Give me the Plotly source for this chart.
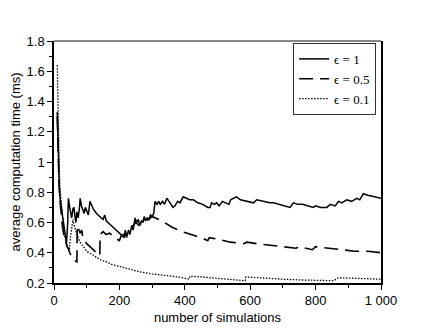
import plotly.graph_objects as go

# epsilon = 1 (solid)
x_e1 = [10, 12, 14, 16, 18, 21, 24, 27, 30, 34, 38, 42, 44, 48, 52, 54, 58, 61, 64, 67,
        70, 74, 78, 80, 84, 88, 92, 96, 100, 105, 110, 115, 120, 130, 140, 150, 155, 160,
        170, 180, 190, 200, 210, 215, 218, 222, 228, 232, 238, 242, 248, 252, 258, 262,
        268, 272, 276, 280, 285, 290, 295, 300, 305, 309, 315, 320, 325, 332, 338, 345,
        355, 364, 370, 378, 385, 395, 405, 415, 426, 440, 455, 470, 477, 482, 490, 497,
        505, 515, 525, 535, 540, 548, 558, 570, 590, 610, 620, 640, 660, 671, 690, 710,
        722, 732, 745, 760, 775, 793, 800, 815, 834, 845, 860, 870, 880, 895, 910, 926,
        935, 946, 960, 980, 1000]
y_e1 = [1.33, 1.10, 0.95, 0.85, 0.77, 0.72, 0.68, 0.62, 0.56, 0.49, 0.46, 0.60, 0.76, 0.70,
        0.65, 0.63, 0.69, 0.70, 0.64, 0.60, 0.67, 0.63, 0.70, 0.76, 0.71, 0.68, 0.66, 0.70,
        0.67, 0.65, 0.74, 0.71, 0.69, 0.66, 0.64, 0.62, 0.65, 0.61, 0.59, 0.57, 0.55, 0.53,
        0.51, 0.50, 0.55, 0.50, 0.55, 0.52, 0.58, 0.55, 0.63, 0.60, 0.62, 0.58, 0.61, 0.60,
        0.64, 0.61, 0.63, 0.62, 0.65, 0.64, 0.66, 0.74, 0.72, 0.74, 0.72, 0.74, 0.72, 0.76,
        0.73, 0.70, 0.71, 0.74, 0.73, 0.77, 0.76, 0.75, 0.75, 0.73, 0.72, 0.70, 0.70, 0.73,
        0.72, 0.73, 0.71, 0.74, 0.73, 0.72, 0.75, 0.76, 0.77, 0.75, 0.74, 0.73, 0.75, 0.74,
        0.73, 0.73, 0.72, 0.71, 0.70, 0.73, 0.72, 0.72, 0.71, 0.70, 0.71, 0.70, 0.70, 0.72,
        0.71, 0.74, 0.73, 0.75, 0.74, 0.76, 0.75, 0.79, 0.78, 0.77, 0.76]

# epsilon = 0.5 (dashed)
x_e05 = [10, 12, 15, 18, 22, 26, 30, 35, 40, 45, 48, 55, 62, 70, 71, 80, 85, 88, 100, 110,
         125, 140, 141, 150, 160, 170, 185, 200, 205, 220, 235, 250, 260, 275, 290, 300,
         310, 330, 360, 390, 420, 450, 470, 475, 500, 540, 580, 590, 620, 660, 700, 740,
         750, 790, 800, 840, 880, 920, 960, 1000]
y_e05 = [1.30, 1.10, 0.88, 0.75, 0.64, 0.57, 0.52, 0.47, 0.44, 0.42, 0.40, 0.37, 0.35, 0.34,
         0.58, 0.53, 0.55, 0.50, 0.46, 0.44, 0.41, 0.38, 0.52, 0.54, 0.52, 0.53, 0.50, 0.48,
         0.51, 0.53, 0.56, 0.60, 0.58, 0.61, 0.62, 0.64, 0.63, 0.61, 0.57, 0.54, 0.52, 0.50,
         0.48, 0.50, 0.49, 0.47, 0.46, 0.47, 0.46, 0.45, 0.44, 0.43, 0.44, 0.42, 0.44, 0.43,
         0.42, 0.41, 0.41, 0.40]

# epsilon = 0.1 (dotted)
x_e01 = [10, 12, 14, 16, 18, 21, 24, 28, 32, 36, 40, 44, 47, 50, 55, 58, 62, 70, 80, 90,
         100, 115, 130, 145, 160, 180, 200, 230, 260, 300, 340, 380, 413, 416, 450, 500,
         550, 585, 587, 650, 700, 760, 800, 855, 870, 930, 1000]
y_e01 = [1.64, 1.35, 1.12, 0.95, 0.84, 0.74, 0.66, 0.58, 0.52, 0.48, 0.45, 0.44, 0.42, 0.50,
         0.60, 0.62, 0.58, 0.52, 0.47, 0.44, 0.41, 0.39, 0.37, 0.35, 0.34, 0.32, 0.31, 0.29,
         0.275, 0.26, 0.25, 0.24, 0.225, 0.245, 0.24, 0.23, 0.22, 0.215, 0.24, 0.23, 0.225,
         0.22, 0.22, 0.215, 0.235, 0.23, 0.225]

x_ticks = [0, 200, 400, 600, 800, 1000]
x_tick_labels = ["0", "200", "400", "600", "800", "1 000"]

fig = go.Figure()
fig.add_trace(go.Scatter(x=x_e1, y=y_e1, mode="lines", name="ϵ = 1",
                         line=dict(color="black", width=1.5)))
fig.add_trace(go.Scatter(x=x_e05, y=y_e05, mode="lines", name="ϵ = 0.5",
                         line=dict(color="black", width=1.6, dash="14px,7px")))
fig.add_trace(go.Scatter(x=x_e01, y=y_e01, mode="lines", name="ϵ = 0.1",
                         line=dict(color="black", width=1.3, dash="1.5px,1.5px")))

axis_font = dict(family="Liberation Sans, Arial, sans-serif", size=13, color="black")

# page is drawn with an 8px body margin, so the figure is a bit smaller
fig.update_layout(
    width=428, height=321,
    margin=dict(l=46, r=55, t=33, b=46),
    paper_bgcolor="white", plot_bgcolor="white",
    font=axis_font,
    showlegend=True,
    legend=dict(x=0.985, y=0.992, xanchor="right", yanchor="top",
                bgcolor="white", bordercolor="#333", borderwidth=1,
                font=dict(family="Liberation Serif, DejaVu Serif, serif", size=13),
                tracegroupgap=0, itemwidth=30),
)
fig.update_xaxes(
    range=[0, 1000], tickvals=x_ticks, ticktext=x_tick_labels, automargin=False,
    showgrid=False, zeroline=False, showline=True, linecolor="black", linewidth=1.5,
    ticks="outside", ticklen=5, tickcolor="black", tickwidth=1,
    minor=dict(dtick=100, ticks="outside", ticklen=3, tickcolor="black"),
    title=dict(text="number of simulations", font=axis_font, standoff=6),
    tickfont=axis_font,
)
fig.update_yaxes(
    range=[0.2, 1.8], dtick=0.2, automargin=False,
    showgrid=False, zeroline=False, showline=True, linecolor="black", linewidth=1.5,
    mirror=True,
    ticks="outside", ticklen=5, tickcolor="black", tickwidth=1,
    minor=dict(dtick=0.1, ticks="outside", ticklen=3, tickcolor="black"),
    title=dict(text="average computation time (ms)", font=axis_font, standoff=8),
    tickfont=axis_font,
)
# grey top frame line
fig.add_shape(type="line", xref="paper", yref="paper", x0=0, x1=1, y0=1, y1=1,
              line=dict(color="#888", width=2))

fig.write_html("out.html")
